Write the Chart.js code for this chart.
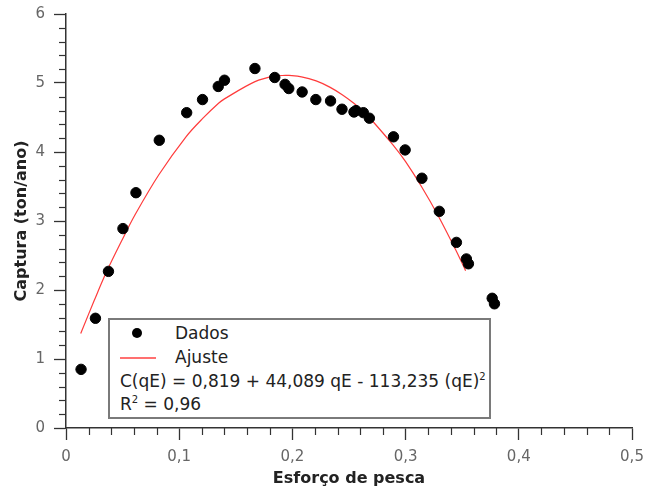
<!DOCTYPE html>
<html><head><meta charset="utf-8">
<script src="https://cdn.jsdelivr.net/npm/chart.js@4.4.1/dist/chart.umd.min.js"></script>
<style>
html,body{margin:0;padding:0;background:#fff;}
#wrap{position:relative;width:648px;height:491px;}
#legend{position:absolute;left:108px;top:318px;width:383px;height:101px;border:2px solid #7a7a7a;background:#fff;font-family:"DejaVu Sans",sans-serif;font-size:17px;color:#222;box-sizing:border-box;}
#legend .row{position:absolute;left:10px;white-space:nowrap;line-height:20px;}
#legend sup{font-size:10px;vertical-align:7px;line-height:0;}
.dot{position:absolute;left:22px;top:8px;width:10px;height:10px;border-radius:50%;background:#000;}
.ln{position:absolute;left:10px;top:37px;width:36px;height:0;border-top:2px solid #ff7070;}
</style></head>
<body>
<div id="wrap">
<canvas id="c" width="648" height="491"></canvas>
<div id="legend">
  <div class="dot"></div>
  <div class="row" style="left:65px;top:3px;">Dados</div>
  <div class="ln"></div>
  <div class="row" style="left:65px;top:27px;">Ajuste</div>
  <div class="row" style="top:51px;">C(qE) = 0,819 + 44,089 qE - 113,235 (qE)<sup>2</sup></div>
  <div class="row" style="top:74px;">R<sup>2</sup> = 0,96</div>
</div>
</div>
<script>
const esforco = [0.0133,0.026,0.0375,0.0503,0.0618,0.0824,0.1066,0.1206,0.1345,0.140,0.1669,0.1844,0.1935,0.1968,0.2086,0.2207,0.2337,0.2438,0.2544,0.2562,0.2627,0.268,0.2893,0.2996,0.3144,0.3298,0.3449,0.3537,0.3555,0.3765,0.3785];
const captura = [0.85,1.59,2.27,2.89,3.41,4.17,4.57,4.76,4.95,5.04,5.21,5.08,4.98,4.92,4.87,4.76,4.74,4.62,4.58,4.60,4.57,4.49,4.22,4.03,3.62,3.14,2.69,2.45,2.38,1.88,1.80];
const ajusteX = [0.013,0.025,0.036,0.050,0.061,0.082,0.106,0.121,0.135,0.140,0.167,0.184,0.194,0.197,0.208,0.221,0.233,0.244,0.254,0.262,0.268,0.289,0.300,0.314,0.329,0.344,0.353];
const ajusteY = [1.37,1.85,2.27,2.74,3.09,3.67,4.22,4.49,4.71,4.77,5.02,5.10,5.11,5.11,5.09,5.03,4.94,4.83,4.71,4.60,4.50,4.10,3.86,3.50,3.07,2.59,2.28];
const xTicks = [0,0.1,0.2,0.3,0.4,0.5];
const yTicks = [0,1,2,3,4,5,6];

const fmt = v => { const r = Math.round(v*10)/10; return r===0 ? '0' : (Number.isInteger(r) ? String(r) : r.toFixed(1).replace('.', ',')); };
const FONT = '"DejaVu Sans",sans-serif';

const minorTicks = {
  id:'minorTicks',
  afterDraw(chart){
    const ctx = chart.ctx, xs = chart.scales.x, ys = chart.scales.y;
    ctx.save(); ctx.strokeStyle = '#333'; ctx.lineWidth = 1.2;
    for(let i=0;i<=25;i++){ if(i%5===0) continue; const px = Math.round(xs.getPixelForValue(i*0.02))+0.5;
      ctx.beginPath(); ctx.moveTo(px, xs.top); ctx.lineTo(px, xs.top+7); ctx.stroke(); }
    for(let i=0;i<=30;i++){ if(i%5===0) continue; const py = Math.round(ys.getPixelForValue(i*0.2))+0.5;
      ctx.beginPath(); ctx.moveTo(ys.right, py); ctx.lineTo(ys.right-7, py); ctx.stroke(); }
    ctx.restore();
  }
};

new Chart(document.getElementById('c'), {
  type:'scatter',
  data:{ datasets:[
    { label:'Ajuste', type:'line', data: ajusteX.map((x,i)=>({x, y:ajusteY[i]})), borderColor:'#ff3b3b', borderWidth:1.2, pointRadius:0, fill:false, tension:0.35, order:2 },
    { label:'Dados', data: esforco.map((x,i)=>({x, y:captura[i]})), backgroundColor:'#000', borderColor:'#000', pointRadius:5.2, pointHoverRadius:5.2, order:1 }
  ]},
  options:{
    responsive:false, animation:false,
    layout:{ padding:{ left:0, right:16, top:14, bottom:0 } },
    plugins:{ legend:{display:false}, tooltip:{enabled:false} },
    scales:{
      x:{ type:'linear', min:0, max:0.5,
        afterBuildTicks: s => { s.ticks = xTicks.map(v=>({value:v})); },
        afterFit: s => { s.height = 63; s.paddingLeft = 0; s.paddingRight = 0; },
        border:{ display:true, color:'#333', width:1.5 },
        grid:{ display:true, drawOnChartArea:false, drawTicks:true, tickLength:12, tickColor:'#333', tickWidth:1.3 },
        ticks:{ color:'#666', font:{ family:FONT, size:15 }, padding:8, callback: v => fmt(v), maxRotation:0 },
        title:{ display:true, text:'Esforço de pesca', color:'#222', font:{ family:FONT, size:16, weight:'bold' }, padding:{top:0,bottom:3} }
      },
      y:{ type:'linear', min:0, max:6,
        afterBuildTicks: s => { s.ticks = yTicks.map(v=>({value:v})); },
        afterFit: s => { s.width = 66; s.paddingTop = 0; s.paddingBottom = 0; },
        border:{ display:true, color:'#333', width:1.5 },
        grid:{ display:true, drawOnChartArea:false, drawTicks:true, tickLength:12, tickColor:'#333', tickWidth:1.3 },
        ticks:{ color:'#666', font:{ family:FONT, size:15 }, padding:9, callback: v => fmt(v) },
        title:{ display:true, text:'Captura (ton/ano)', color:'#222', font:{ family:FONT, size:16, weight:'bold' }, padding:{top:12,bottom:0} }
      }
    }
  },
  plugins:[minorTicks]
});
</script>
</body></html>
